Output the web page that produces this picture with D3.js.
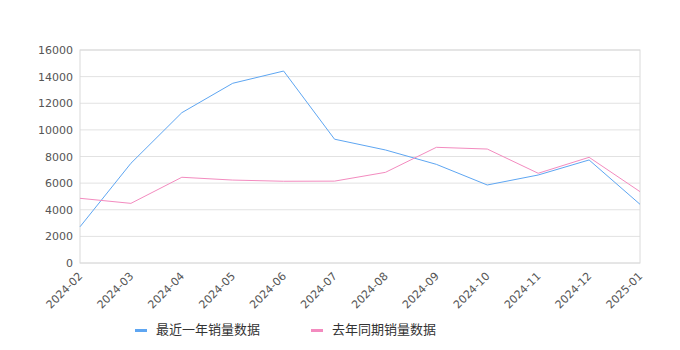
<!DOCTYPE html>
<html>
<head>
<meta charset="utf-8">
<script src="https://cdn.jsdelivr.net/npm/d3@7"></script>
<style>
  body { margin: 0; background: #fff; }
  svg { display: block; font-family: "DejaVu Sans", "Noto Sans CJK SC", sans-serif; }
</style>
</head>
<body>
<div id="chart"></div>
<script>
// Months on the x axis
const months = ['2024-02', '2024-03', '2024-04', '2024-05', '2024-06', '2024-07',
    '2024-08', '2024-09', '2024-10', '2024-11', '2024-12', '2025-01'];

// Sales in the last 12 months
const recentSales = [2720, 7490, 11290, 13500, 14420, 9300, 8490, 7410, 5860, 6610, 7740, 4410];

// Same period a year earlier
const lastYearSales = [4860, 4480, 6440, 6230, 6140, 6150, 6810, 8690, 8560, 6740, 7940, 5360];

const yTicks = [0, 2000, 4000, 6000, 8000, 10000, 12000, 14000, 16000];

const seriesNames = ['最近一年销量数据', '去年同期销量数据'];
const seriesColors = ['#5ea6f2', '#f38bbf'];

const width = 680;
const height = 350;
const margin = { top: 50, right: 40, bottom: 87, left: 80 };

const svg = d3.select('#chart')
    .append('svg')
    .attr('width', width)
    .attr('height', height);

const x = d3.scalePoint()
    .domain(months)
    .range([margin.left, width - margin.right]);

const y = d3.scaleLinear()
    .domain([0, 16000])
    .range([height - margin.bottom, margin.top]);

// Grid lines
svg.append('g')
    .selectAll('line')
    .data(yTicks)
    .enter()
    .append('line')
    .attr('x1', margin.left)
    .attr('x2', width - margin.right)
    .attr('y1', d => y(d))
    .attr('y2', d => y(d))
    .attr('stroke', '#e2e2e2')
    .attr('stroke-width', 1);

// Plot frame
svg.append('rect')
    .attr('x', margin.left)
    .attr('y', margin.top)
    .attr('width', width - margin.left - margin.right)
    .attr('height', height - margin.top - margin.bottom)
    .attr('fill', 'none')
    .attr('stroke', '#dadada')
    .attr('stroke-width', 1);

// Y axis labels
const yAxis = svg.append('g')
    .attr('transform', `translate(${margin.left},0)`)
    .call(d3.axisLeft(y).tickValues(yTicks).tickFormat(d3.format('d')).tickSize(0).tickPadding(7))
    .attr('font-family', null)
    .attr('font-size', 11);
yAxis.select('.domain').remove();
yAxis.selectAll('text')
    .attr('fill', '#555');

// X axis labels
const xAxis = svg.append('g')
    .attr('transform', `translate(0,${height - margin.bottom})`)
    .call(d3.axisBottom(x).tickSize(0))
    .attr('font-family', null)
    .attr('font-size', 11);
xAxis.select('.domain').remove();
xAxis.selectAll('text')
    .attr('fill', '#555')
    .attr('text-anchor', 'end')
    .attr('x', 0)
    .attr('y', 0)
    .attr('dy', '0.35em')
    .attr('transform', 'translate(0,11) rotate(-45)');

// Lines
const line = d3.line()
    .x((d, i) => x(months[i]))
    .y(d => y(d));

[recentSales, lastYearSales].forEach((data, k) => {
    svg.append('path')
        .datum(data)
        .attr('d', line)
        .attr('fill', 'none')
        .attr('stroke', seriesColors[k])
        .attr('stroke-width', 1);
});

// Legend
const legendX = [135, 311];
seriesNames.forEach((name, k) => {
    const g = svg.append('g')
        .attr('transform', `translate(${legendX[k]},329)`);
    g.append('rect')
        .attr('x', 0)
        .attr('y', 0)
        .attr('width', 12)
        .attr('height', 3)
        .attr('fill', seriesColors[k]);
    g.append('text')
        .attr('x', 21)
        .attr('y', 0)
        .attr('dy', '0.35em')
        .attr('font-size', 13)
        .attr('fill', '#333')
        .text(name);
});
</script>
</body>
</html>
